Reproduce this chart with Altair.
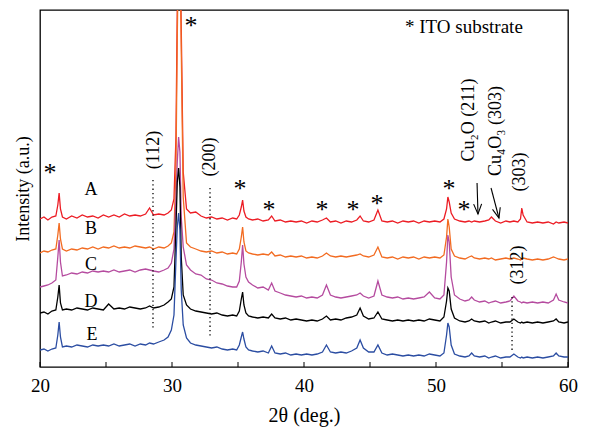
import altair as alt
import pandas as pd

FONT = "Liberation Serif"

# shared 2-theta grid (deg), rows of 8
two_theta = [
    20.0, 20.3, 20.6, 20.9, 21.2, 21.35, 21.45, 21.55,
    21.7, 22.0, 22.4, 22.8, 23.2, 23.6, 24.0, 24.4,
    24.8, 25.2, 25.6, 26.0, 26.4, 26.8, 27.2, 27.6,
    28.0, 28.3, 28.6, 29.0, 29.4, 29.7, 29.95, 30.15,
    30.3, 30.4, 30.5, 30.6, 30.7, 30.85, 31.1, 31.4,
    31.8, 32.2, 32.6, 33.0, 33.4, 33.8, 34.2, 34.6,
    34.9, 35.1, 35.25, 35.35, 35.45, 35.6, 35.8, 36.1,
    36.5, 36.9, 37.3, 37.55, 37.8, 38.2, 38.6, 39.0,
    39.4, 39.8, 40.2, 40.6, 41.0, 41.4, 41.7, 42.0,
    42.4, 42.8, 43.2, 43.6, 44.0, 44.25, 44.5, 44.9,
    45.3, 45.6, 45.9, 46.3, 46.7, 47.1, 47.5, 47.9,
    48.3, 48.7, 49.1, 49.5, 49.9, 50.3, 50.6, 50.8,
    50.9, 51.0, 51.15, 51.4, 51.8, 52.2, 52.5, 52.7,
    52.9, 53.3, 53.7, 54.0, 54.2, 54.5, 54.9, 55.3,
    55.6, 55.9, 56.2, 56.4, 56.5, 56.6, 56.9, 57.3,
    57.7, 58.1, 58.5, 58.9, 59.1, 59.3, 59.7, 60.0,
]

# offset intensities (a.u.)
sample_A = [
    148, 150, 147, 150, 151, 162, 174, 158,
    150, 148, 151, 149, 152, 150, 151, 149,
    152, 150, 152, 150, 153, 151, 152, 151,
    153, 159, 152, 153, 152, 154, 157, 168,
    230, 360, 420, 420, 340, 195, 158, 154,
    155, 151, 149, 150, 148, 149, 147, 149,
    148, 152, 160, 167, 156, 150, 148, 147,
    148, 146, 147, 151, 146, 147, 145, 146,
    145, 146, 144, 146, 145, 147, 149, 145,
    146, 144, 146, 145, 147, 151, 146, 145,
    147, 157, 146, 145, 146, 144, 146, 145,
    146, 144, 146, 145, 146, 145, 148, 158,
    170, 165, 154, 148, 146, 145, 146, 145,
    146, 145, 146, 147, 150, 146, 144, 146,
    145, 146, 145, 148, 159, 152, 145, 144,
    145, 144, 145, 143, 145, 144, 145, 144,
]
sample_B = [
    114, 116, 115, 117, 118, 132, 144, 128,
    118, 116, 118, 117, 119, 118, 120, 118,
    120, 119, 121, 119, 120, 119, 121, 120,
    119, 120, 118, 120, 119, 121, 124, 135,
    200, 330, 430, 430, 320, 170, 124, 120,
    118, 116, 115, 116, 114, 115, 113, 114,
    113, 118, 130, 140, 125, 116, 114, 113,
    112, 113, 112, 115, 111, 112, 110, 111,
    110, 111, 109, 110, 109, 111, 114, 111,
    110, 111, 110, 111, 112, 113, 111, 110,
    112, 120, 110, 109, 110, 108, 110, 109,
    110, 108, 110, 109, 110, 109, 112, 130,
    148, 140, 118, 111, 109, 108, 110, 111,
    109, 108, 109, 108, 109, 107, 108, 109,
    108, 109, 108, 107, 108, 109, 108, 107,
    108, 107, 108, 110, 109, 108, 107, 108,
]
sample_C = [
    80, 81, 82, 84, 87, 110, 127, 105,
    91, 92, 94, 93, 95, 94, 96, 95,
    96, 95, 97, 95, 96, 97, 95, 97,
    98, 97, 96, 95, 97, 99, 104, 118,
    170, 205, 230, 215, 150, 120, 102, 97,
    93, 92, 88, 87, 84, 83, 81, 80,
    80, 86, 105, 122, 103, 90, 85, 82,
    79, 80, 77, 84, 76, 74, 72, 71,
    70, 71, 69, 70, 69, 72, 82, 72,
    70, 69, 70, 71, 72, 74, 71, 69,
    71, 86, 72, 70, 69, 70, 68, 69,
    68, 69, 70, 75, 69, 68, 72, 105,
    132, 125, 90, 72, 68, 66, 67, 70,
    67, 65, 66, 64, 65, 66, 64, 65,
    66, 71, 66, 65, 64, 65, 64, 65,
    64, 65, 64, 67, 73, 67, 65, 64,
]
sample_D = [
    54, 55, 53, 56, 57, 70, 82, 64,
    57, 58, 57, 59, 58, 57, 59, 58,
    57, 63, 58, 59, 58, 60, 59, 58,
    59, 61, 59, 60, 62, 65, 68, 80,
    140, 185, 199, 180, 110, 72, 62, 58,
    56, 55, 54, 53, 54, 52, 51, 52,
    51, 56, 68, 75, 62, 54, 51, 50,
    49, 50, 49, 53, 49, 48, 49, 47,
    48, 47, 46, 47, 46, 48, 51, 47,
    48, 47, 49, 50, 52, 59, 51, 48,
    49, 55, 48, 47, 46, 47, 46, 47,
    46, 47, 46, 48, 47, 46, 50, 66,
    79, 76, 58, 49, 46, 45, 46, 48,
    46, 45, 46, 44, 45, 46, 44, 45,
    45, 48, 45, 44, 45, 44, 45, 44,
    45, 44, 45, 46, 48, 45, 44, 45,
]
sample_E = [
    17, 18, 16, 18, 19, 32, 45, 30,
    20, 21, 20, 22, 21, 20, 22, 21,
    22, 21, 23, 21, 22, 23, 21, 23,
    22, 24, 23, 25, 27, 30, 37, 52,
    107, 140, 154, 137, 77, 42, 29, 24,
    22, 21, 20, 19, 20, 18, 17, 18,
    17, 22, 30, 35, 28, 20, 17, 16,
    15, 16, 14, 21, 14, 13, 14, 12,
    13, 12, 13, 12, 13, 15, 22, 15,
    14, 15, 14, 16, 19, 27, 19, 15,
    15, 22, 14, 12, 13, 12, 11, 12,
    11, 12, 11, 13, 12, 11, 14, 32,
    44, 40, 22, 13, 11, 10, 11, 14,
    11, 10, 11, 9, 10, 11, 9, 10,
    10, 13, 10, 9, 10, 9, 10, 9,
    10, 9, 10, 11, 14, 11, 10, 10,
]

samples = ["A", "B", "C", "D", "E"]
colors = ["#EC1C24", "#F26B21", "#B54B9F", "#000000", "#2B4DA2"]
series = [sample_A, sample_B, sample_C, sample_D, sample_E]

rows = []
for name, vals in zip(samples, series):
    assert len(vals) == len(two_theta), name
    for t, v in zip(two_theta, vals):
        rows.append({"two_theta": t, "intensity": v, "sample": name})
df = pd.DataFrame(rows)

# tick marks (inward)
tick_pos = [20, 25, 30, 35, 40, 45, 50, 55, 60]
label_pos = [20, 30, 40, 50, 60]

# dotted reference lines
ref_x = [28.56, 32.88, 55.76]
ref_y1 = [187, 179, 70]
ref_y2 = [37, 29, 14]

# rotated labels
rot_text = ["(112)", "(200)", "Cu\u2082O (211)", "Cu\u2084O\u2083 (303)", "(303)", "(312)"]
rot_x = [28.62, 32.88, 52.5, 54.55, 56.36, 56.2]
rot_y = [217, 210, 247, 236, 195, 102]

# sample letters
let_x = [23.86, 23.86, 23.86, 23.86, 23.94]
let_y = [177, 138, 102, 65, 32]

# asterisks marking ITO peaks
ast_x = [20.76, 31.44, 35.15, 37.35, 41.36, 43.71, 45.53, 50.98, 52.12]
ast_y = [200, 347, 184, 163, 163, 163, 169, 184, 163]

# arrows
arr_x1 = [53.11, 54.17]
arr_y1 = [184, 179]
arr_x2 = [53.18, 54.77]
arr_y2 = [153, 149]
arr_ang = [358, 345]

xs = alt.Scale(domain=[20, 60], nice=False)
ys = alt.Scale(domain=[0, 357], nice=False, zero=False)

lines = alt.Chart(df).mark_line(strokeWidth=1.3, clip=True).encode(
    x=alt.X("two_theta:Q", scale=xs,
            axis=alt.Axis(title="2\u03b8 (deg.)", values=label_pos, ticks=False, domain=False,
                          grid=False, labelPadding=9, titlePadding=10, format="d",
                          labelFlush=False, labelFont=FONT, titleFont=FONT,
                          labelFontSize=19, titleFontSize=20, titleFontWeight="normal",
                          labelColor="black", titleColor="black")),
    y=alt.Y("intensity:Q", scale=ys,
            axis=alt.Axis(title="Intensity (a.u.)", labels=False, ticks=False, domain=False,
                          grid=False, titlePadding=8, titleFont=FONT, titleFontSize=18,
                          titleFontWeight="normal", titleColor="black")),
    color=alt.Color("sample:N", scale=alt.Scale(domain=samples, range=colors), legend=None),
)

ticks = alt.Chart(pd.DataFrame({"t": tick_pos})).mark_rule(color="black", strokeWidth=1).encode(
    x=alt.X("t:Q", scale=xs), y=alt.value(357), y2=alt.value(352)
)

dotted = alt.Chart(pd.DataFrame({"x": ref_x, "y1": ref_y1, "y2": ref_y2})).mark_rule(
    color="black", strokeWidth=1.3, strokeDash=[1.3, 3]
).encode(x=alt.X("x:Q", scale=xs), y=alt.Y("y1:Q", scale=ys), y2="y2:Q")

rot = alt.Chart(pd.DataFrame({"x": rot_x, "y": rot_y, "t": rot_text})).mark_text(
    angle=270, align="center", baseline="middle", font=FONT, fontSize=18, color="black"
).encode(x=alt.X("x:Q", scale=xs), y=alt.Y("y:Q", scale=ys), text="t:N")

letters = alt.Chart(pd.DataFrame({"x": let_x, "y": let_y, "t": samples})).mark_text(
    align="center", baseline="middle", font=FONT, fontSize=18, color="black"
).encode(x=alt.X("x:Q", scale=xs), y=alt.Y("y:Q", scale=ys), text="t:N")

asts = alt.Chart(pd.DataFrame({"x": ast_x, "y": ast_y, "t": ["*"] * len(ast_x)})).mark_text(
    align="center", baseline="middle", font=FONT, fontSize=26, dy=6, color="black"
).encode(x=alt.X("x:Q", scale=xs), y=alt.Y("y:Q", scale=ys), text="t:N")

ito = alt.Chart(pd.DataFrame({"x": [47.65], "y": [340], "t": ["* ITO substrate"]})).mark_text(
    align="left", baseline="middle", font=FONT, fontSize=19, color="black"
).encode(x=alt.X("x:Q", scale=xs), y=alt.Y("y:Q", scale=ys), text="t:N")

arrows = alt.Chart(pd.DataFrame({"x1": arr_x1, "y1": arr_y1, "x2": arr_x2, "y2": arr_y2})).mark_rule(
    color="black", strokeWidth=1.1
).encode(x=alt.X("x1:Q", scale=xs), y=alt.Y("y1:Q", scale=ys), x2="x2:Q", y2="y2:Q")

heads = alt.Chart(pd.DataFrame({"x": arr_x2, "y": arr_y2, "a": arr_ang})).mark_point(
    shape="M -0.4 -1 L 0 0 L 0.4 -1", filled=False, color="black", strokeWidth=1.1, size=400, opacity=1
).encode(x=alt.X("x:Q", scale=xs), y=alt.Y("y:Q", scale=ys), angle=alt.Angle("a:Q", scale=None))

chart = alt.layer(lines, ticks, dotted, arrows, heads, rot, letters, asts, ito).properties(
    width=528, height=357,
    padding={"left": 40, "top": 10, "right": 23, "bottom": 62},
    autosize=alt.AutoSizeParams(type="none"),
    background="white",
).configure_view(stroke="black", strokeWidth=1.3)

chart.save("out.html", embed_options={"renderer": "svg", "actions": False})
